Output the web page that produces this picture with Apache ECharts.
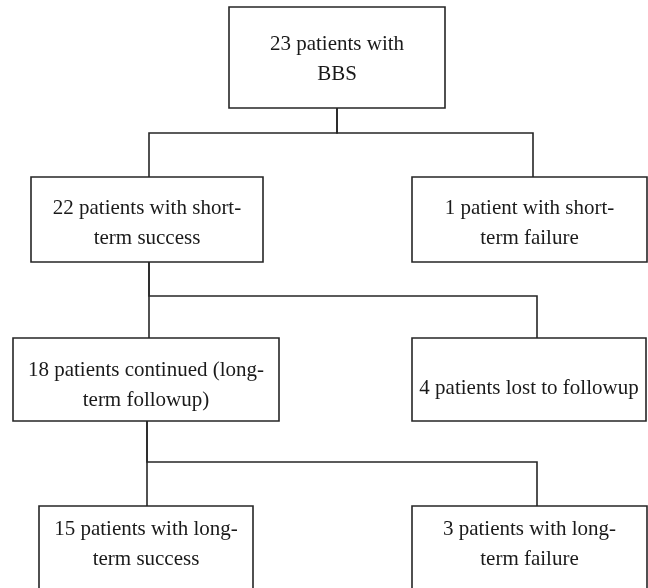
<!DOCTYPE html>
<html>
<head>
<meta charset="utf-8">
<script src="https://cdn.jsdelivr.net/npm/echarts@6/dist/echarts.min.js"></script>
<style>html,body{margin:0;padding:0;background:#fff}#c{width:648px;height:588px}</style>
</head>
<body>
<div id="c"></div>
<script>
// Node texts
var nodeLabels = [
  "23 patients with\nBBS",
  "22 patients with short-\nterm success",
  "1 patient with short-\nterm failure",
  "18 patients continued (long-\nterm followup)",
  "4 patients lost to followup",
  "15 patients with long-\nterm success",
  "3 patients with long-\nterm failure"
];
// Tree structure: parent index of each node (-1 = root)
var nodeParent = [-1, 0, 0, 1, 1, 3, 3];

// Layout (in pixel-like axis units)
var boxLeft   = [229, 31, 412, 13, 412, 39, 412];
var boxRight  = [445, 263, 647, 279, 646, 253, 647];
var boxTop    = [7, 177, 177, 338, 338, 506, 506];
var boxBottom = [108, 262, 262, 421, 421, 600, 600];
var textY     = [59, 223, 223, 385, 388, 544, 544];
var topConnX  = [337, 149, 533, 149, 537, 147, 537];
var botConnX  = [337, 149, 533, 147, 537, 147, 537];
var busY      = [133, 296, null, 462, null, null, null];

var boxData = nodeLabels.map(function (t, i) {
  return [boxLeft[i], boxTop[i], boxRight[i], boxBottom[i], textY[i], t];
});

var edgeData = [];
for (var i = 0; i < nodeParent.length; i++) {
  var p = nodeParent[i];
  if (p < 0) continue;
  edgeData.push({
    coords: [
      [botConnX[p], boxBottom[p]],
      [botConnX[p], busY[p]],
      [topConnX[i], busY[p]],
      [topConnX[i], boxTop[i]]
    ]
  });
}

var chart = echarts.init(document.getElementById('c'));
chart.setOption({
  animation: false,
  backgroundColor: '#fff',
  grid: { left: 0, right: 0, top: 0, bottom: 0 },
  xAxis: { type: 'value', min: 0, max: 648, show: false },
  yAxis: { type: 'value', min: 0, max: 588, inverse: true, show: false },
  series: [
    {
      type: 'lines',
      coordinateSystem: 'cartesian2d',
      polyline: true,
      silent: true,
      lineStyle: { color: '#262626', width: 1.6, opacity: 1 },
      data: edgeData,
      z: 1
    },
    {
      type: 'custom',
      coordinateSystem: 'cartesian2d',
      clip: false,
      data: boxData,
      encode: { x: [0, 2], y: [1, 3] },
      renderItem: function (params, api) {
        var p0 = api.coord([api.value(0), api.value(1)]);
        var p1 = api.coord([api.value(2), api.value(3)]);
        var ty = api.coord([0, api.value(4)])[1];
        var label = boxData[params.dataIndex][5];
        return {
          type: 'group',
          children: [
            {
              type: 'rect',
              shape: { x: p0[0], y: p0[1], width: p1[0] - p0[0], height: p1[1] - p0[1] },
              style: { fill: '#fff', stroke: '#262626', lineWidth: 1.6 }
            },
            {
              type: 'text',
              x: (p0[0] + p1[0]) / 2,
              y: ty,
              style: {
                text: label,
                fill: '#1a1a1a',
                font: '21px "Liberation Serif", serif',
                lineHeight: 30,
                align: 'center',
                verticalAlign: 'middle'
              }
            }
          ]
        };
      },
      z: 2
    }
  ]
});
</script>
</body>
</html>
